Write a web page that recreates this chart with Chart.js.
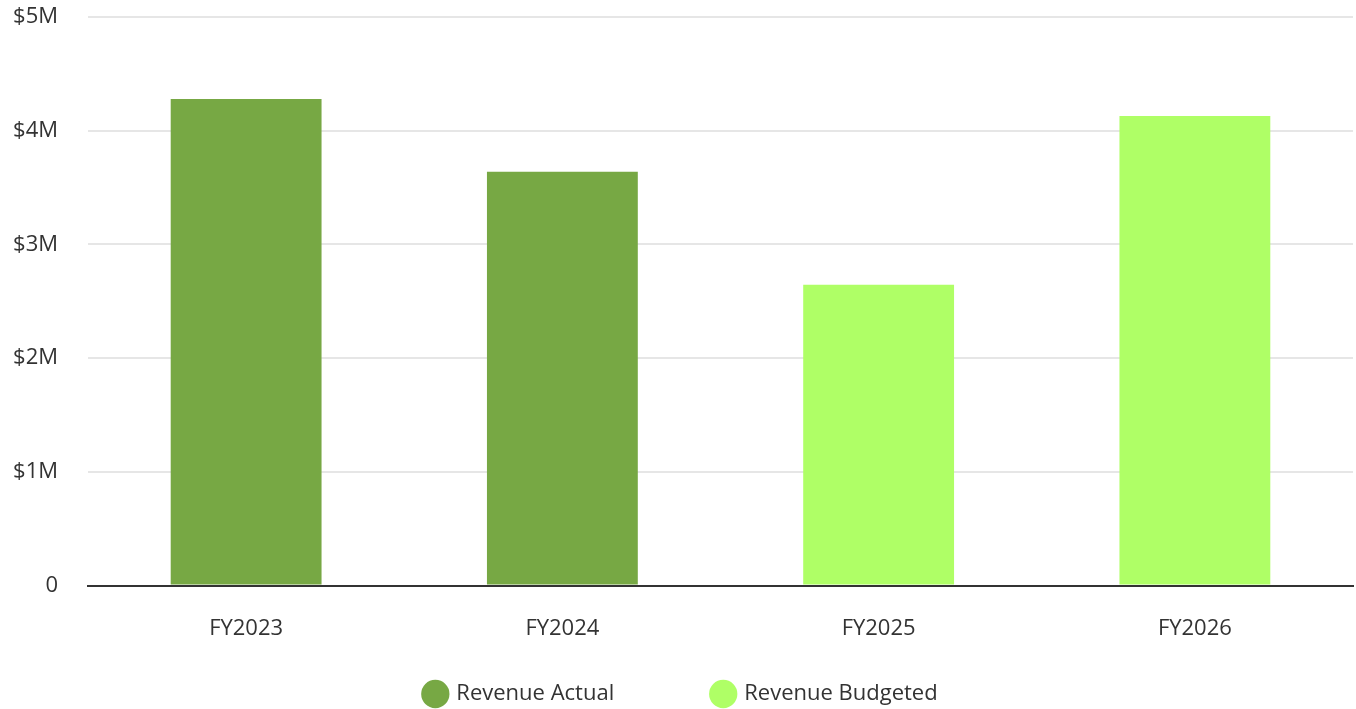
<!DOCTYPE html>
<html>
<head>
<meta charset="utf-8">
<script src="https://cdn.jsdelivr.net/npm/chart.js@4"></script>
<style>
  html, body { margin: 0; padding: 0; background: #fff; }
  #wrap { width: 1356px; height: 709px; }
</style>
</head>
<body>
<div id="wrap"><canvas id="revenue"></canvas></div>
<script>
// fiscal years and revenue (USD)
const years = ["FY2023", "FY2024", "FY2025", "FY2026"];
const actual = [4280000, 3640000, null, null];
const budgeted = [null, null, 2645000, 4130000];
const yTicks = [0, 1000000, 2000000, 3000000, 4000000, 5000000];

const fontFamily = "'Open Sans', Lato, sans-serif";
const fontSize = 22;

new Chart(document.getElementById("revenue"), {
  type: "bar",
  data: {
    labels: years,
    datasets: [
      { label: "Revenue Actual", data: actual, backgroundColor: "#77a844" },
      { label: "Revenue Budgeted", data: budgeted, backgroundColor: "#afff66" }
    ]
  },
  options: {
    responsive: true,
    maintainAspectRatio: false,
    animation: false,
    grouped: false,
    categoryPercentage: 1,
    barPercentage: 0.477,
    layout: { padding: { top: 0, right: 3, left: 10, bottom: -6 } },
    plugins: {
      tooltip: { enabled: false },
      legend: {
        position: "bottom",
        labels: {
          usePointStyle: true,
          pointStyle: "circle",
          boxWidth: 20,
          boxHeight: 20,
          padding: 19,
          color: "#333",
          font: { family: fontFamily, size: fontSize },
          // wider gap between the two legend entries
          generateLabels: (chart) => {
            const items = Chart.defaults.plugins.legend.labels.generateLabels(chart);
            items[0].text += "              ";
            return items;
          }
        }
      }
    },
    scales: {
      x: {
        grid: { display: false },
        border: { color: "#333", width: 2 },
        ticks: { color: "#333", padding: 22, font: { family: fontFamily, size: fontSize } }
      },
      y: {
        min: 0,
        max: 5000000,
        afterBuildTicks: (axis) => { axis.ticks = yTicks.map(v => ({ value: v })); },
        // fixed label column; keep the tick padding from stretching the axis vertically
        afterFit: (axis) => {
          axis.width = 78;
          axis.paddingTop = 17;
          axis.paddingBottom = 12;
        },
        grid: { color: "#e6e6e6", lineWidth: 2, drawTicks: false },
        border: { display: false },
        ticks: {
          color: "#333",
          padding: 30,
          font: { family: fontFamily, size: fontSize },
          callback: v => v === 0 ? "0" : "$" + (v / 1000000) + "M"
        }
      }
    }
  }
});
</script>
</body>
</html>
